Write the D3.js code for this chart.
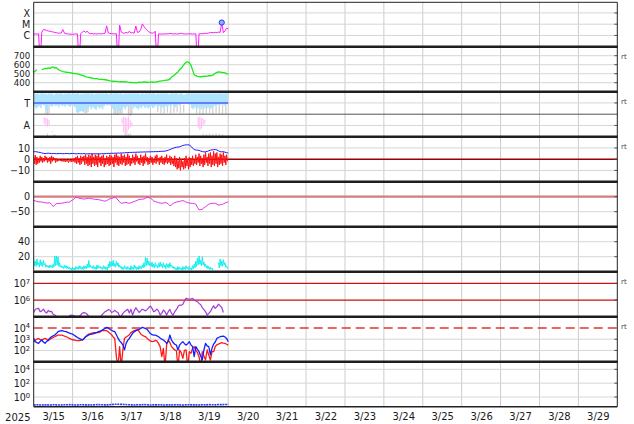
<!DOCTYPE html>
<html><head><meta charset="utf-8">
<script src="https://cdn.jsdelivr.net/npm/d3@7"></script>
<style>body{margin:0;background:#fff}svg{display:block}text{font-family:"DejaVu Sans",sans-serif}</style>
</head><body><svg id="c" width="634" height="424"></svg>
<script>
// ---------- DATA (hourly from 2025-03-15 00:00 UTC) ----------
const dayLabelsYear = "2025";
const xrayTicks = [1e-4, 1e-5, 1e-6], xrayTickLabels = ["X", "M", "C"];
const xrayLog = [-5.88,-5.86,-5.87,-5.85,-8.5,-5.7,-5.47,-5.5,-5.56,-5.6,
 -5.63,-5.66,-5.7,-5.72,-5.76,-5.79,-5.8,-5.78,-5.48,-5.8,
 -5.84,-5.86,-5.88,-5.89,-5.9,-5.88,-5.86,-5.87,-8.5,-5.85,
 -5.7,-5.6,-5.72,-5.62,-5.8,-5.84,-5.83,-5.86,-5.85,-5.87,
 -5.84,-5.86,-5.85,-5.83,-5.8,-5.15,-5.78,-5.82,-5.84,-5.85,
 -5.86,-5.85,-8.5,-5.07,-5.7,-5.78,-5.8,-5.72,-5.8,-5.62,
 -5.78,-5.75,-5.8,-5.16,-5.72,-5.7,-5.5,-4.97,-5.2,-5.4,
 -5.55,-5.68,-5.75,-5.8,-5.78,-5.62,-8.5,-5.86,-5.87,-5.88,
 -5.86,-5.87,-5.85,-5.86,-5.82,-5.84,-5.86,-5.85,-5.87,-5.86,
 -5.84,-5.8,-5.85,-5.86,-5.87,-5.86,-5.85,-5.86,-5.87,-5.86,
 -5.85,-8.5,-5.86,-5.85,-5.84,-5.83,-5.8,-5.82,-5.78,-5.75,
 -5.74,-5.76,-5.72,-5.74,-5.7,-5.73,-4.85,-5.75,-5.6,-5.35,
 -5.42];
const flareHour = [116];

const speedTicks = [700, 600, 500, 400];
const speed = [515,530,545,null,null,545,552,560,556,565,
 558,570,575,562,568,548,538,530,524,520,
 516,514,511,508,505,502,500,497,493,488,
 482,476,468,463,460,455,452,448,445,446,
 440,438,436,434,433,430,425,420,418,416,
 414,415,412,410,412,409,411,410,406,404,
 402,400,401,399,402,405,403,406,408,405,
 407,404,406,408,405,406,410,414,418,420,
 422,426,428,430,440,460,475,488,505,520,
 545,560,585,610,625,633,620,596,540,490,
 478,470,467,466,468,472,470,474,478,477,
 482,490,505,515,520,518,515,512,508,502,
 496];

const sectorTicks = [315, 135], sectorLabels = ["T", "A"];
const tTop = [392,387,392,385,390,392,388,390,385,392, 388,392,380,390,392,388,392,390,385,392,
 388,392,390,387,392,388,390,392,385,390, 388,392,390,392,388,392,390,385,392,388,
 392,390,392,388,392,390,385,392,388,392, 390,392,388,392,390,385,392,388,392,390,
 392,388,392,390,392,385,392,390,388,392, 390,392,388,392,390,385,392,388,392,390,
 392,388,392,385,390,392,388,392,390,385, 392,388,380,385,390,392,388,392,390,392,
 388,392,390,392,388,392,390,392,388,392, 390,392,388,392,390,392,388,392,390,392];
const tBot = [285,270,280,290,275,300,295,250,260,300, 290,285,300,290,295,280,300,290,295,285,
 300,290,285,295,290,280,240,235,245,250, 240,260,275,270,285,265,280,270,260,285,
 270,280,265,290,300,295,300,290,270,260, 255,265,250,260,270,280,265,285,290,280,
 295,270,285,275,260,280,270,290,275,285, 270,280,290,275,285,295,280,290,275,285,
 270,290,280,295,285,300,290,280,295,300, 290,310,320,315,310,305,300,275,265,280,
 270,275,285,265,280,270,290,275,285,270, 280,295,290,300,295,300,305,295,300,305];
const grayHours = [7,8,9,31,32,33,49,50,51,52,53,54,58,59,60,76,78,80,82,84,86,88,90,92,100,102,104,106,108,110,112,114,116,118];
const grayLo = [225,220,230,235,230,240,228,222,218,225,230,228,215,210,220,240,235,230,238,232,236,240,235,238,230,225,222,228,230,225,232,228,222,226];
const grayAHours = [8,12,13,56,57,58,59,104,106,108,110,112,114,116];
const grayATop = [70,65,62,75,70,68,72,70,66,72,68,74,70,66];
const pinkHours = [6,7,8,9,11,54,55,56,57,58,59,60,101,102,103,104,105];
const pinkTop = [200,195,190,180,90,190,205,200,195,205,180,160,200,205,195,190,180];
const pinkBot = [150,130,125,140,80,150,80,60,70,100,120,130,120,100,110,130,150];

const imfTicks = [10, 0, -10], imfLabels = ["10", "0", "\u221210"];
const bt = [6.5,6.8,6.5,6.2,6.0,5.5,5.2,5.0,5.2,5.3, 5.2,5.0,5.1,5.0,4.9,5.0,5.1,5.0,4.9,5.0,
 5.1,5.0,4.9,5.0,5.1,5.0,4.8,4.9,5.0,4.8, 4.9,5.0,4.8,4.7,4.9,4.8,4.7,4.8,4.9,4.8,
 4.7,4.8,4.9,5.0,4.9,5.1,5.2,5.1,5.3,5.2, 5.4,5.3,5.5,5.4,5.6,5.5,5.7,5.8,6.0,5.9,
 6.1,6.0,6.2,6.1,6.3,6.2,6.4,6.3,6.5,6.4, 6.5,6.6,6.5,6.7,6.6,6.8,6.7,6.8,6.9,7.0,
 7.0,7.2,7.5,8.0,8.5,9.2,9.8,10.2,10.6,10.8, 11.0,11.6,12.2,12.5,12.7,12.8,12.6,11.5,9.8,8.6,
 8.2,8.0,7.8,7.2,6.8,6.5,6.6,6.9,7.5,8.0, 8.3,8.5,8.6,8.2,7.4,6.8,6.5,6.8,6.2,5.8, 5.5];
const bzHi = [3,3.5,2,1,3,2,1,3,2,1, 2,3,2,1,0.5,0,0,-0.5,0,-0.5, 0,-1,0,-0.5,0,1,2,3,1,3,
 2,3,4,2,4,3,5,2,4,3, 5,2,3,4,1,3,2,4,3,2, 4,5,3,2,5,3,4,2,5,3,
 1,4,2,5,3,1,4,2,3,5, 2,1,3,2,0,3,4,1,2,3, 1,2,4,1,3,2,0,3,1,-1,
 2,0,-2,1,3,0,2,1,3,0, 4,2,5,3,1,4,6,2,5,6, 3,7,5,6,2,5,4,6,3,4];
const bzLo = [-4,-5,-4,-3,-2,-3,-2,-1,-3,-2, -4,-2,-1,-3,-2,-1.5,-1.5,-2,-2,-2.5, -2,-3,-2,-2.5,-2,-3,-4,-3,-5,-4,
 -2,-5,-4,-6,-5,-7,-4,-6,-5,-7, -3,-6,-4,-7,-5,-4,-6,-5,-4,-7, -3,-5,-6,-4,-5,-3,-6,-5,-4,-6,
 -4,-3,-5,-2,-4,-5,-3,-6,-4,-2, -5,-4,-3,-5,-3,-4,-2,-5,-3,-4, -5,-3,-4,-3,-5,-4,-6,-7,-9,-8,
 -10,-7,-9,-8,-6,-9,-7,-5,-6,-4, -5,-3,-6,-4,-7,-5,-3,-6,-4,-7, -5,-6,-4,-7,-5,-4,-6,-3,-5,-2];

const dstTicks = [0, -50], dstLabels = ["0", "\u221250"];
const dst = [-11,-14,-16,-17,-17,-18,-19,-20,-21,-21, -20,-26,-33,-28,-23,-23,-22,-22,-21,-20,
 -19,-18,-18,-14,-11,-7,-2,-3,-5,-6, -7,-8,-7,-6,-5,-6,-7,-8,-9,-9,
 -10,-11,-12,-14,-15,-13,-10,-7,-6,-4, -2,-5,-11,-17,-22,-21,-20,-19,-21,-22,
 -20,-18,-16,-14,-12,-9,-9,-8,-8,-5, -2,-3,-5,-9,-14,-16,-18,-20,-21,-22,
 -21,-20,-20,-25,-30,-28,-22,-20,-18,-17, -16,-14,-13,-15,-18,-20,-21,-22,-22,-23,
 -25,-35,-44,-43,-42,-37,-33,-29,-25,-23, -22,-22,-22,-25,-28,-27,-26,-24,-21,-19, -17];

const densTicks = [40, 20];
const densHi = [18,14,17,12,16,13,15,11,9,8, 9,8,10,21,21,20,12,8,7,9, 8,7,6,5,6,5,7,6,8,7,
 6,8,7,10,15,9,7,8,6,9, 8,7,6,8,7,6,10,14,13,15, 11,14,12,9,7,6,8,6,7,5,
 8,6,9,7,6,8,7,9,12,19, 18,14,12,13,10,12,9,11,13,10, 12,9,11,10,12,9,7,6,5,7,
 6,5,7,6,8,6,7,5,8,10, 14,18,21,15,20,13,10,8,7,6, 5,null,null,null,12,17,14,16,12,8];
const densLo = [8,7,9,6,8,7,9,6,6,5, 6,5,6,8,9,7,6,5,4,5, 4,4,3,2,3,2,4,3,4,3,
 3,4,4,5,6,5,4,4,3,4, 5,4,3,4,3,2,5,7,8,7, 6,8,6,5,3,3,4,3,4,2,
 3,3,4,3,3,4,4,5,6,8, 9,8,7,6,5,7,5,6,7,5, 6,4,6,5,7,5,4,3,2,3,
 3,2,3,3,4,3,3,2,4,5, 7,9,10,8,9,7,5,4,3,3, 2,null,null,null,5,8,7,9,6,4];

const fluxTicks = [1e7, 1e6], fluxSup = ["7", "6"];
const fluxLog = [5.25,5.45,5.48,5.5,5.3,5.35,5.45,5.3,5.22,5.38, 5.3,5.32,5.15,5.1,5.02,4.9,4.85,4.8,4.8,4.8,
 4.85,4.9,5.05,5.1,5.08,5.05,5.02,5.02,5.03,5.1, 5.22,5.24,5.22,5.15,5.0,4.9,4.85,4.85,4.85,4.85,
 4.85,4.9,5.1,5.2,5.3,5.35,5.42,5.4,5.25,5.3, 5.38,5.3,5.25,5.03,5.02,5.2,5.3,5.38,5.44,5.22,
 5.44,5.1,5.35,5.54,5.4,5.25,5.35,5.45,5.4,5.35, 5.44,5.55,5.64,5.5,5.3,5.35,5.45,5.35,5.1,5.2,
 5.4,5.3,5.1,5.3,5.44,5.2,5.1,5.3,5.42,5.6, 5.7,5.68,5.75,5.95,6.1,6.08,6.05,6.06,6.1,6.0,
 5.95,5.9,5.8,5.72,5.55,5.42,5.3,5.1,5.2,5.3, 5.5,5.65,5.5,5.6,5.75,5.65,5.55,5.25];

const elecTicks = [1e4, 1e3, 1e2], elecSup = ["4", "3", "2"];
const elecBlueLog = [3.07,2.78,2.7,2.63,2.8,2.93,2.75,2.63,2.8,2.93, 3.1,3.22,3.3,3.37,3.5,3.67,3.72,3.76,3.74,3.7,
 3.67,3.6,3.55,3.5,3.46,3.35,3.25,3.15,3.07,3.0, 2.93,3.05,3.22,3.3,3.38,3.42,3.46,3.5,3.55,3.6,
 3.67,3.72,3.78,3.87,3.95,4.05,4.0,3.88,3.8,3.72, 3.67,3.4,3.1,2.85,2.7,2.49,2.05,2.63,2.9,3.07,
 3.3,3.52,3.65,3.76,3.82,3.88,3.95,4.05,4.0,3.95, 3.88,3.67,3.5,3.4,3.37,3.37,3.3,3.22,3.1,3.0,
 2.93,2.8,2.63,2.8,3.37,2.93,2.7,2.55,2.48,2.04, 2.48,2.65,2.78,2.6,2.48,2.6,2.78,2.5,2.34,1.45,
 2.34,2.1,1.89,1.5,1.15,2.04,2.63,2.4,2.34,1.6, 2.2,2.57,2.75,3.07,3.15,3.22,3.25,3.28,3.2,3.07, 2.78];
const elecRedLog = [2.78,2.93,3.0,3.07,2.95,2.93,3.0,3.07,3.0,2.87, 3.0,3.07,3.15,3.22,3.3,3.37,3.37,3.37,3.33,3.27,
 3.22,3.15,3.07,3.0,2.95,2.93,2.9,2.88,2.87,2.9, 2.93,3.05,3.22,3.35,3.46,3.5,3.55,3.58,3.58,3.58,
 3.58,3.65,3.76,3.78,3.77,3.76,3.65,3.52,3.4,3.2, 3.07,1.45,0.5,2.34,0.5,2.04,3.07,3.2,3.28,3.4,
 3.58,3.67,3.76,3.8,3.82,3.7,3.46,3.35,3.28,3.22, 3.07,2.95,2.85,2.78,2.8,2.9,2.85,2.63,2.34,1.45,
 2.19,0.5,2.5,2.93,2.7,2.34,2.2,2.04,2.0,0.5, 2.04,1.8,1.3,2.0,2.04,0.5,1.9,1.74,2.2,2.34,
 2.04,1.8,1.45,0.5,1.89,1.5,1.15,2.04,1.6,1.15, 1.9,1.89,2.35,2.5,2.57,2.63,2.69,2.65,2.63,2.55, 2.48];
const elecThreshold = [1e4];

const p9Ticks = [1e4, 1e2, 1e0], p9Sup = ["4", "2", "0"];
const p9Log2h = [-1.15,-1.12,-1.16,-1.14,-1.13,-1.15,-1.12,-1.14,-1.16,-1.13,-1.12,-1.1,-1.14,-1.15,-1.13,-1.12,
 -1.14,-1.13,-1.15,-1.12,-1.1,-1.12,-1.14,-1.13,-1.08,-1.05,-1.04,-1.06,-1.08,-1.12,-1.13,-1.15,-1.12,-1.14,
 -1.1,-1.12,-1.16,-1.13,-1.14,-1.12,-1.15,-1.14,-1.13,-1.15,-1.12,-1.14,-1.16,-1.13,-1.12,-1.14,-1.13,-1.15,
 -1.12,-1.14,-1.1,-1.12,-1.13,-1.09,-1.1,-1.08,-1.07];
const rtPanels = [1, 2, 3, 6, 7];

// ---------- LAYOUT ----------
const L = 33.7, R = 617.3, PH = 45;
const ptop = i => 1.7 + PH * i, pbot = i => ptop(i) + PH;
const START = new Date(Date.UTC(2025, 2, 15)), END = new Date(Date.UTC(2025, 2, 30));
const T = h => new Date(START.getTime() + h * 3600e3);
const x = d3.scaleUtc().domain([START, END]).range([L, R]);

const y1 = d3.scaleLog().domain([1e-7, 1e-3]).range([pbot(0), ptop(0)]);
const y2 = d3.scaleLinear().domain([300, 800]).range([pbot(1), ptop(1)]);
const y3 = d3.scaleLinear().domain([45, 405]).range([pbot(2), ptop(2)]);
const y4 = d3.scaleLinear().domain([-20, 20]).range([pbot(3), ptop(3)]);
const y5 = d3.scaleLinear().domain([-100, 50]).range([pbot(4), ptop(4)]);
const y6 = d3.scaleLinear().domain([0, 60]).range([pbot(5), ptop(5)]);
const y7 = d3.scaleLog().domain([1e5, Math.pow(10, 7.7)]).range([pbot(6), ptop(6)]);
const y8 = d3.scaleLog().domain([1e1, 1e5]).range([pbot(7), ptop(7)]);
const y9 = d3.scaleLog().domain([Math.pow(10, -1.4), Math.pow(10, 5.1)]).range([pbot(8), ptop(8)]);

const svg = d3.select("#c");
const defs = svg.append("defs");
for (let i = 0; i < 9; i++) defs.append("clipPath").attr("id", "cp" + i).append("rect")
  .attr("x", L).attr("y", ptop(i)).attr("width", R - L).attr("height", PH);
const gGrid = svg.append("g"), gData = svg.append("g"), gFrame = svg.append("g"), gText = svg.append("g");

// vertical day grid
const dayLines = d3.utcDay.range(d3.utcDay.offset(START, 1), END);
gGrid.selectAll("line.v").data(dayLines).join("line")
  .attr("x1", d => x(d)).attr("x2", d => x(d)).attr("y1", ptop(0)).attr("y2", pbot(8))
  .attr("stroke", "#cdcdcd").attr("stroke-width", 1);

// horizontal grids + labels
const panels = [
  {y: y1, t: xrayTicks, lab: xrayTickLabels},
  {y: y2, t: speedTicks, lab: speedTicks.map(String), fs: 8.6},
  {y: y3, t: sectorTicks, lab: sectorLabels},
  {y: y4, t: imfTicks, lab: imfLabels, special: {0: ["#990000", 1.4]}},
  {y: y5, t: dstTicks, lab: dstLabels, special: {0: ["#d47d7d", 2.2]}},
  {y: y6, t: densTicks, lab: densTicks.map(String)},
  {y: y7, t: fluxTicks, sup: fluxSup, special: {1e7: ["#cc1111", 1.2], 1e6: ["#cc1111", 1.2]}},
  {y: y8, t: elecTicks, sup: elecSup},
  {y: y9, t: p9Ticks, sup: p9Sup}
];
panels.forEach((p, i) => {
  p.t.forEach(v => {
    const sp = p.special && p.special[v];
    if (i === 7 && v === elecThreshold[0]) return;
    gGrid.append("line").attr("x1", L).attr("x2", R).attr("y1", p.y(v)).attr("y2", p.y(v))
      .attr("stroke", sp ? sp[0] : "#d6d6d6").attr("stroke-width", sp ? sp[1] : 1);
    gFrame.append("line").attr("x1", R - 3).attr("x2", R).attr("y1", p.y(v)).attr("y2", p.y(v))
      .attr("stroke", "#555").attr("stroke-width", 1);
  });
  const ax = d3.axisLeft(p.y).tickValues(p.t).tickSize(0).tickPadding(3.5)
    .tickFormat((d, k) => p.lab ? p.lab[k] : "10");
  const a = gText.append("g").attr("transform", `translate(${L},0)`).call(ax);
  a.select(".domain").remove();
  a.selectAll("text").attr("font-size", p.fs || 9.6).attr("fill", "#1a1a1a").attr("font-family", "DejaVu Sans");
  if (p.sup) a.selectAll("text").each(function (d, k) {
    d3.select(this).append("tspan").attr("dy", "-0.45em").attr("font-size", 6.8).text(p.sup[k]);
  });
});

// panel 8 threshold (dashed)
gGrid.append("line").attr("x1", L).attr("x2", R).attr("y1", y8(elecThreshold[0])).attr("y2", y8(elecThreshold[0]))
  .attr("stroke", "#e03535").attr("stroke-width", 1.4).attr("stroke-dasharray", "9,5");

function drawLine(i, y, pts, color, w, extra) {
  const line = d3.line().defined(d => d[1] != null).x(d => x(d[0])).y(d => y(d[1]));
  const p = gData.append("path").attr("clip-path", `url(#cp${i})`).attr("fill", "none")
    .attr("stroke", color).attr("stroke-width", w).attr("stroke-linejoin", "round").attr("d", line(pts));
  if (extra) extra(p);
  return p;
}
function zigzag(hi, lo) {
  const pts = [];
  hi.forEach((v, h) => { pts.push([T(h), v]); pts.push([T(h + 0.5), lo[h]]); });
  return pts;
}

// Panel 1: X-ray
drawLine(0, y1, xrayLog.map((v, h) => [T(h), Math.pow(10, v)]), "#ff1aff", 1);
flareHour.forEach(h => gData.append("circle").attr("cx", x(T(h))).attr("cy", y1(Math.pow(10, xrayLog[h])))
  .attr("r", 2.6).attr("fill", "#9aa6ff").attr("stroke", "#2233ff").attr("stroke-width", 1));

// Panel 2: speed
drawLine(1, y2, speed.map((v, h) => [T(h), v]), "#14ec14", 1.3);

// Panel 3: sector
const bw = x(T(1)) - x(T(0));
const g3 = gData.append("g").attr("clip-path", "url(#cp2)");
grayHours.forEach((h, k) => g3.append("rect").attr("x", x(T(h + 0.1))).attr("width", bw * 0.8)
  .attr("y", y3(300)).attr("height", y3(grayLo[k]) - y3(300)).attr("fill", "#d2d2d2"));
grayAHours.forEach((h, k) => g3.append("rect").attr("x", x(T(h + 0.2))).attr("width", bw * 0.6)
  .attr("y", y3(grayATop[k])).attr("height", y3(40) - y3(grayATop[k])).attr("fill", "#d2d2d2"));
const hrs = tTop.map((v, h) => h).concat([tTop.length]);
g3.append("path").attr("fill", "#ade4ff")
  .attr("d", d3.area().curve(d3.curveStepAfter).x(h => x(T(h)))
    .y0(h => y3(tBot[Math.min(h, tBot.length - 1)])).y1(h => y3(tTop[Math.min(h, tTop.length - 1)]))(hrs));
pinkHours.forEach((h, k) => g3.append("rect").attr("x", x(T(h + 0.15))).attr("width", bw * 0.7)
  .attr("y", y3(pinkTop[k])).attr("height", y3(pinkBot[k]) - y3(pinkTop[k])).attr("fill", "#ffbdf3"));
drawLine(2, y3, [[T(0), sectorTicks[0]], [T(120), sectorTicks[0]]], "#4f5cff", 1.5);

// Panel 4: IMF
drawLine(3, y4, zigzag(bzHi, bzLo), "#ff1010", 1);
drawLine(3, y4, bt.map((v, h) => [T(h), v]), "#1a1aff", 1);

// Panel 5: Dst
drawLine(4, y5, dst.map((v, h) => [T(h), v]), "#e030ea", 1);

// Panel 6: density
drawLine(5, y6, zigzag(densHi, densLo), "#12eeee", 1);

// Panel 7: flux
drawLine(6, y7, fluxLog.map((v, h) => [T(h), Math.pow(10, v)]), "#a43ad8", 1.2);

// Panel 8: electrons
drawLine(7, y8, elecRedLog.map((v, h) => [T(h), Math.pow(10, v)]), "#ff1a1a", 1.3);
drawLine(7, y8, elecBlueLog.map((v, h) => [T(h), Math.pow(10, v)]), "#1020ff", 1.3);

// Panel 9
drawLine(8, y9, p9Log2h.map((v, k) => [T(2 * k), Math.pow(10, v)]), "#2a3cff", 1.6, p => p.attr("stroke-dasharray", "2,0.7"));

// Panel 3 divider
gFrame.append("line").attr("x1", L).attr("x2", R).attr("y1", (ptop(2) + pbot(2)) / 2).attr("y2", (ptop(2) + pbot(2)) / 2)
  .attr("stroke", "#555").attr("stroke-width", 1);

// frame
gFrame.append("line").attr("x1", L).attr("x2", R).attr("y1", 2.3).attr("y2", 2.3).attr("stroke", "#222").attr("stroke-width", 1);
for (let i = 1; i < 9; i++) gFrame.append("line").attr("x1", L - 0.5).attr("x2", R + 0.5)
  .attr("y1", ptop(i)).attr("y2", ptop(i)).attr("stroke", "#1e1e1e").attr("stroke-width", 2.6);
gFrame.append("line").attr("x1", L).attr("x2", R).attr("y1", pbot(8)).attr("y2", pbot(8)).attr("stroke", "#222").attr("stroke-width", 1.4);
gFrame.append("line").attr("x1", L).attr("x2", L).attr("y1", 2.3).attr("y2", pbot(8)).attr("stroke", "#222").attr("stroke-width", 1);
gFrame.append("line").attr("x1", R).attr("x2", R).attr("y1", 2.3).attr("y2", pbot(8)).attr("stroke", "#222").attr("stroke-width", 1);

// x axis labels
const noon = d3.utcDay.range(START, END).map(d => d3.utcHour.offset(d, 12));
const xa = gText.append("g").attr("transform", `translate(0,${pbot(8)})`)
  .call(d3.axisBottom(x).tickValues(noon).tickSize(0).tickPadding(6.3).tickFormat(d3.utcFormat("%-m/%-d")));
xa.select(".domain").remove();
xa.selectAll("text").attr("font-size", 10).attr("fill", "#1a1a1a").attr("font-family", "DejaVu Sans");
gText.append("text").attr("x", 30.5).attr("y", 420.5).attr("text-anchor", "end").attr("font-size", 10)
  .attr("fill", "#1a1a1a").text(dayLabelsYear);

// rt labels
rtPanels.forEach(i => gText.append("text").attr("x", 621).attr("y", ptop(i) + 12).attr("font-size", 7)
  .attr("fill", "#444").text("rt"));
</script></body></html>
